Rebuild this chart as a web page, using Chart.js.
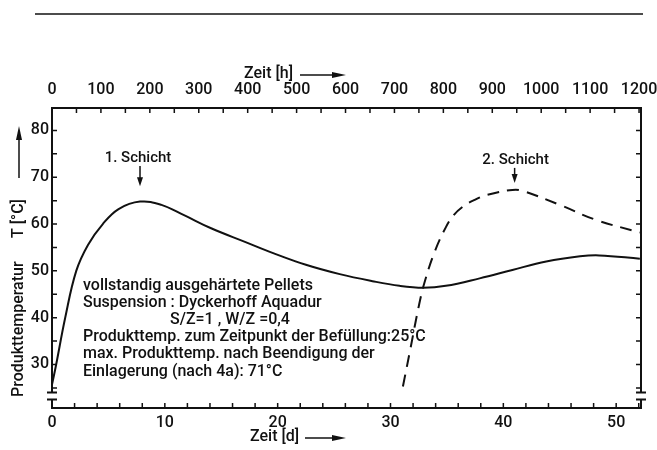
<!DOCTYPE html>
<html>
<head>
<meta charset="utf-8">
<title>Produkttemperatur</title>
<script src="https://cdn.jsdelivr.net/npm/chart.js@4.4.1/dist/chart.umd.min.js"></script>
<style>
  html, body { margin: 0; padding: 0; background: #fff; }
  #wrap { width: 657px; height: 450px; }
</style>
</head>
<body>
<div id="wrap"><canvas id="tempChart" width="657" height="450"></canvas></div>
<script>
// 1. Schicht (durchgezogen): Zeit [d] / Temperatur [°C]
var schicht1Tage = [0, 0.37, 1.17, 2.15, 3.2, 4.5, 5.9, 7.8, 9.7, 11.7, 14.1, 17.1, 19.6, 22.5, 25.5, 28.4, 30.8, 32.9, 34.9, 37.9, 40.8, 43.8, 46.8, 48.5, 52.1];
var schicht1Temp = [25.7, 30.0, 40.0, 50.0, 55.6, 60.0, 63.2, 64.8, 64.1, 61.9, 59.1, 56.2, 53.8, 51.3, 49.3, 47.8, 46.8, 46.4, 46.8, 48.4, 50.2, 52.0, 53.1, 53.3, 52.6];

// 2. Schicht (gestrichelt)
var schicht2Tage = [31.1, 31.8, 32.5, 33.0, 33.9, 34.9, 35.6, 36.4, 37.4, 38.5, 40.8, 41.7, 45.0, 48.2, 52.1];
var schicht2Temp = [25.3, 33.8, 42.4, 47.4, 54.0, 59.3, 61.9, 63.7, 65.1, 66.2, 67.3, 67.1, 64.1, 60.9, 58.2];

// Achsen
var tageMax = 52.2, stundenMax = 1204;
var tempMin = 20.7, tempMax = 84.8;
var bruch = [24.0, 22.5];   // Achsenbruch unten

var notiz = [
  "vollstandig ausgehärtete Pellets",
  "Suspension : Dyckerhoff Aquadur",
  "S/Z=1 , W/Z =0,4",
  "Produkttemp. zum Zeitpunkt der Befüllung:25°C",
  "max. Produkttemp. nach Beendigung der",
  "Einlagerung (nach 4a): 71°C"
];

var FONT = "Roboto, 'DejaVu Sans', sans-serif";
var INK = "#111";

function toPoints(xs, ys) {
  return xs.map(function (x, i) { return { x: x, y: ys[i] }; });
}

function arrowRight(ctx, x1, x2, y) {
  ctx.beginPath();
  ctx.moveTo(x1, y);
  ctx.lineTo(x2 - 12, y);
  ctx.stroke();
  ctx.beginPath();
  ctx.moveTo(x2, y);
  ctx.lineTo(x2 - 14, y - 3);
  ctx.lineTo(x2 - 14, y + 3);
  ctx.closePath();
  ctx.fill();
}

function arrowDown(ctx, x, y1, y2) {
  ctx.beginPath();
  ctx.moveTo(x, y1);
  ctx.lineTo(x, y2 - 6);
  ctx.stroke();
  ctx.beginPath();
  ctx.moveTo(x, y2);
  ctx.lineTo(x - 3, y2 - 9);
  ctx.lineTo(x + 3, y2 - 9);
  ctx.closePath();
  ctx.fill();
}

// Rahmen, innenliegende Striche, Achsenbruch, Beschriftungen
var rahmen = {
  id: 'rahmen',
  afterDraw: function (chart) {
    var ctx = chart.ctx;
    var a = chart.chartArea;
    var sx = chart.scales.x, sx2 = chart.scales.x2, sy = chart.scales.y;
    var b1 = sy.getPixelForValue(bruch[0]);
    var b2 = sy.getPixelForValue(bruch[1]);

    ctx.save();
    ctx.strokeStyle = INK;
    ctx.fillStyle = INK;
    ctx.lineCap = 'butt';

    // Kopflinie der Seite
    ctx.lineWidth = 1.5;
    ctx.beginPath();
    ctx.moveTo(35, 14);
    ctx.lineTo(643, 14);
    ctx.stroke();

    // Rahmen
    ctx.lineWidth = 2;
    ctx.beginPath();
    ctx.moveTo(a.left - 1, a.top);
    ctx.lineTo(a.right + 1, a.top);
    ctx.moveTo(a.left - 1, a.bottom);
    ctx.lineTo(a.right + 1, a.bottom);
    [a.left, a.right].forEach(function (x) {
      ctx.moveTo(x, a.top);
      ctx.lineTo(x, b1);
      ctx.moveTo(x, b2);
      ctx.lineTo(x, a.bottom);
      ctx.moveTo(x - 5, b1);
      ctx.lineTo(x + 5, b1);
      ctx.moveTo(x - 5, b2);
      ctx.lineTo(x + 5, b2);
    });
    ctx.stroke();

    // Striche nach innen
    ctx.lineWidth = 1.5;
    ctx.beginPath();
    sy.ticks.forEach(function (t) {
      var py = sy.getPixelForValue(t.value);
      ctx.moveTo(a.left, py);
      ctx.lineTo(a.left + 5, py);
      ctx.moveTo(a.right, py);
      ctx.lineTo(a.right - 5, py);
    });
    sx.ticks.forEach(function (t) {
      var px = sx.getPixelForValue(t.value);
      ctx.moveTo(px, a.bottom);
      ctx.lineTo(px, a.bottom - 5);
    });
    sx2.ticks.forEach(function (t) {
      var px = sx2.getPixelForValue(t.value);
      ctx.moveTo(px, a.top);
      ctx.lineTo(px, a.top + 5);
    });
    ctx.stroke();

    // Achsentitel
    ctx.font = "500 16px " + FONT;
    ctx.textBaseline = 'middle';
    ctx.textAlign = 'left';
    ctx.lineWidth = 1.5;
    ctx.fillText("Zeit [h]", 244, 74);
    arrowRight(ctx, 300, 346, 75);
    ctx.fillText("Zeit [d]", 250, 437);
    arrowRight(ctx, 305, 346, 438);

    ctx.save();
    ctx.translate(19, 397);
    ctx.rotate(-Math.PI / 2);
    ctx.fillText("Produkttemperatur", 0, 0);
    ctx.fillText("T [°C]", 159, 0);
    arrowRight(ctx, 219, 271, 0);
    ctx.restore();

    // Kennzeichnung der Schichten
    ctx.font = "500 15px " + FONT;
    ctx.textAlign = 'center';
    var p1 = sx.getPixelForValue(7.8);
    ctx.fillText("1. Schicht", p1 - 2, sy.getPixelForValue(74.1));
    arrowDown(ctx, p1, sy.getPixelForValue(72.4), sy.getPixelForValue(68.1));
    var p2 = sx.getPixelForValue(41.0);
    ctx.fillText("2. Schicht", p2 + 1, sy.getPixelForValue(73.7));
    arrowDown(ctx, p2, sy.getPixelForValue(72.0), sy.getPixelForValue(68.8));

    // Versuchsbedingungen
    ctx.font = "500 16px " + FONT;
    ctx.textAlign = 'left';
    var x0 = a.left + 31, y0 = 286, dy = 17.1;
    notiz.forEach(function (txt, i) {
      var x = (i === 2) ? x0 + 87 : x0;
      ctx.fillText(txt, x, y0 + i * dy);
    });

    ctx.restore();
  }
};

var tickFont = { family: FONT, size: 16, weight: '500' };

var ctx = document.getElementById('tempChart').getContext('2d');
var chart = new Chart(ctx, {
  type: 'line',
  data: {
    datasets: [
      {
        label: '1. Schicht',
        data: toPoints(schicht1Tage, schicht1Temp),
        borderColor: INK,
        borderWidth: 2,
        pointRadius: 0,
        fill: false,
        tension: 0.4,
        xAxisID: 'x',
        yAxisID: 'y'
      },
      {
        label: '2. Schicht',
        data: toPoints(schicht2Tage, schicht2Temp),
        borderColor: INK,
        borderWidth: 2,
        borderDash: [12, 8],
        pointRadius: 0,
        fill: false,
        tension: 0.4,
        xAxisID: 'x',
        yAxisID: 'y'
      }
    ]
  },
  options: {
    responsive: false,
    animation: false,
    devicePixelRatio: 1,
    layout: { padding: { left: 0, right: 16, top: 0, bottom: 0 } },
    plugins: {
      legend: { display: false },
      tooltip: { enabled: false }
    },
    scales: {
      x: {
        type: 'linear',
        position: 'bottom',
        min: 0,
        max: tageMax,
        grid: { display: false, drawTicks: false },
        border: { display: false },
        ticks: {
          stepSize: 2,
          includeBounds: false,
          autoSkip: false,
          maxRotation: 0,
          padding: 5,
          color: INK,
          font: tickFont,
          callback: function (v) { return v % 10 === 0 ? String(v) : ''; }
        },
        afterFit: function (s) { s.height = 42; s.paddingLeft = 0; s.paddingRight = 0; }
      },
      x2: {
        type: 'linear',
        position: 'top',
        min: 0,
        max: stundenMax,
        grid: { display: false, drawTicks: false },
        border: { display: false },
        ticks: {
          stepSize: 50,
          includeBounds: false,
          autoSkip: false,
          maxRotation: 0,
          padding: 8,
          color: INK,
          font: tickFont,
          callback: function (v) { return v % 100 === 0 ? String(v) : ''; }
        },
        afterFit: function (s) { s.height = 108; s.paddingLeft = 0; s.paddingRight = 0; }
      },
      y: {
        type: 'linear',
        min: tempMin,
        max: tempMax,
        grid: { display: false, drawTicks: false },
        border: { display: false },
        ticks: {
          stepSize: 5,
          includeBounds: false,
          autoSkip: false,
          padding: 3,
          color: INK,
          font: tickFont,
          callback: function (v) { return v % 10 === 0 ? String(v) : ''; }
        },
        afterFit: function (s) { s.width = 52; s.paddingTop = 0; s.paddingBottom = 0; }
      }
    }
  },
  plugins: [rahmen]
});
</script>
</body>
</html>
